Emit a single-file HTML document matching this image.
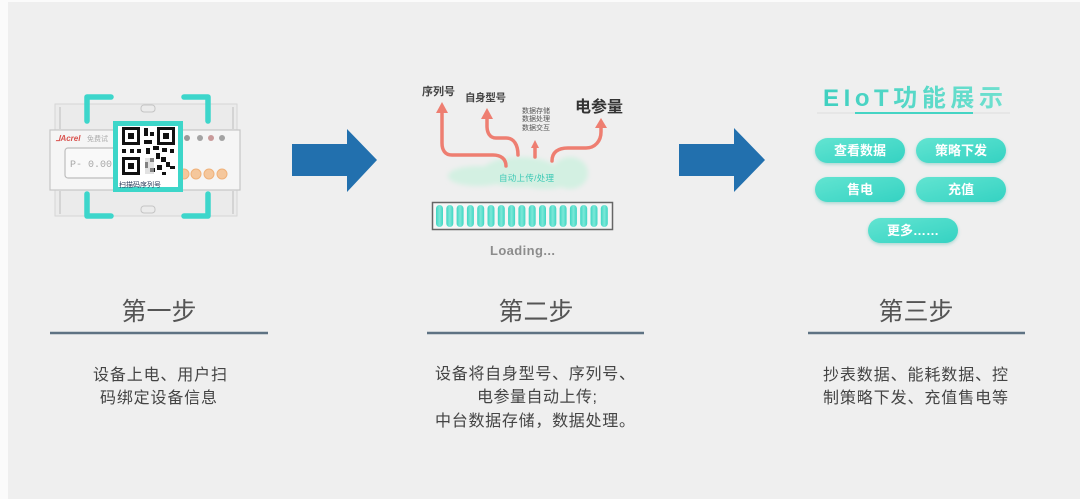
<!DOCTYPE html>
<html><head><meta charset="utf-8">
<style>
html,body{margin:0;padding:0;}
body{width:1080px;height:499px;background:#efefef;overflow:hidden;position:relative;font-family:"Liberation Sans","Noto Sans CJK SC",sans-serif;}
svg{position:absolute;left:0;top:0;}
</style></head>
<body>
<svg width="1080" height="499" viewBox="0 0 1080 499" xmlns="http://www.w3.org/2000/svg">
<defs>
  <linearGradient id="tg" x1="0" y1="0" x2="1" y2="0">
    <stop offset="0" stop-color="#3fd0c0"/><stop offset="1" stop-color="#6fe0cf"/>
  </linearGradient>
  <linearGradient id="bg" x1="0" y1="0" x2="1" y2="1">
    <stop offset="0" stop-color="#62e4d1"/><stop offset="1" stop-color="#34d2c2"/>
  </linearGradient>
  <linearGradient id="seg" x1="0" y1="0" x2="1" y2="0">
    <stop offset="0" stop-color="#3fd6c3"/><stop offset="0.5" stop-color="#7ce8d8"/><stop offset="1" stop-color="#3fd6c3"/>
  </linearGradient>
  <filter id="blur" x="-20%" y="-50%" width="140%" height="200%"><feGaussianBlur stdDeviation="2.5"/></filter>
  <filter id="sh" x="-10%" y="-20%" width="120%" height="160%"><feDropShadow dx="0" dy="1.5" stdDeviation="1.5" flood-color="#2aa89b" flood-opacity="0.35"/></filter>
</defs>

<!-- edges -->
<rect x="0" y="0" width="8" height="499" fill="#fbfbfb"/>
<rect x="0" y="0" width="1080" height="2" fill="#fbfbfb"/>

<!-- ===== STEP 1 device ===== -->
<g>
  <rect x="55" y="104" width="182" height="26" fill="#ebebeb" stroke="#d6d6d6" stroke-width="1"/>
  <rect x="55" y="190" width="182" height="26" fill="#ebebeb" stroke="#d6d6d6" stroke-width="1"/>
  <line x1="60" y1="107" x2="60" y2="129" stroke="#bdbdbd" stroke-width="1"/>
  <line x1="60" y1="191" x2="60" y2="214" stroke="#bdbdbd" stroke-width="1"/>
  <line x1="233" y1="107" x2="233" y2="129" stroke="#bdbdbd" stroke-width="1"/>
  <line x1="233" y1="191" x2="233" y2="214" stroke="#bdbdbd" stroke-width="1"/>
  <rect x="141" y="105" width="14" height="7" rx="3" fill="none" stroke="#c4c4c4" stroke-width="1"/>
  <rect x="141" y="206" width="14" height="7" rx="3" fill="none" stroke="#c4c4c4" stroke-width="1"/>
  <rect x="50" y="130" width="190" height="60" fill="#f5f5f5" stroke="#c6c6c6" stroke-width="1.2"/>
  <text x="56" y="141" font-family="Liberation Sans, sans-serif" font-size="8" font-weight="bold" font-style="italic" fill="#d9534f">⅃Acrel</text>
  <text x="87" y="141" font-family="Liberation Sans, Noto Sans CJK SC, sans-serif" font-size="7" fill="#aaa">免费试</text>
  <rect x="65" y="148" width="63" height="30" rx="3" fill="#f9f9f9" stroke="#bdbdbd" stroke-width="1.2"/>
  <text x="70" y="167" font-family="Liberation Mono, monospace" font-size="10" fill="#a8a8a8">P-  0.00</text>
  <circle cx="187" cy="138" r="3" fill="#9a9a9a"/>
  <circle cx="200" cy="138" r="3" fill="#a3a3a3"/>
  <circle cx="211" cy="138" r="3" fill="#c99a9a"/>
  <circle cx="222" cy="138" r="3" fill="#a3a3a3"/>
  <circle cx="184" cy="174" r="5" fill="#f5c79c" stroke="#f0b27a" stroke-width="1"/>
  <circle cx="196" cy="174" r="5" fill="#f5c79c" stroke="#f0b27a" stroke-width="1"/>
  <circle cx="209" cy="174" r="5" fill="#f5c79c" stroke="#f0b27a" stroke-width="1"/>
  <circle cx="222" cy="174" r="5" fill="#f5c79c" stroke="#f0b27a" stroke-width="1"/>
</g>
<!-- QR -->
<g>
  <rect x="115.5" y="123.5" width="65" height="66" fill="#ffffff" stroke="#3dd6c9" stroke-width="5"/>
  <g fill="#111">
    <rect x="122" y="127" width="18" height="18"/><rect x="157" y="127" width="18" height="18"/><rect x="122" y="157" width="18" height="18"/>
  </g>
  <g fill="#fff">
    <rect x="125" y="130" width="12" height="12"/><rect x="160" y="130" width="12" height="12"/><rect x="125" y="160" width="12" height="12"/>
  </g>
  <g fill="#111">
    <rect x="128" y="133" width="6" height="6"/><rect x="163" y="133" width="6" height="6"/><rect x="128" y="163" width="6" height="6"/>
    <rect x="144" y="128" width="4" height="8"/><rect x="150" y="132" width="4" height="4"/><rect x="144" y="140" width="8" height="4"/>
    <rect x="122" y="149" width="4" height="4"/><rect x="130" y="149" width="4" height="4"/><rect x="137" y="149" width="4" height="4"/>
    <rect x="146" y="148" width="4" height="6"/><rect x="153" y="146" width="6" height="4"/><rect x="162" y="148" width="5" height="4"/><rect x="170" y="149" width="4" height="4"/>
    <rect x="156" y="153" width="4" height="6"/><rect x="161" y="157" width="5" height="5"/><rect x="150" y="158" width="4" height="4"/>
    <rect x="166" y="162" width="4" height="5"/><rect x="157" y="165" width="5" height="5"/><rect x="170" y="166" width="5" height="3"/>
    <rect x="145" y="162" width="3" height="6"/><rect x="150" y="168" width="5" height="4"/><rect x="162" y="172" width="4" height="3"/>
  </g>
  <rect x="145" y="158" width="9" height="16" fill="#cfcfcf" opacity="0.6"/>
  <text x="119" y="187" font-family="Liberation Sans, Noto Sans CJK SC, sans-serif" font-size="7" fill="#2a3a5a">扫描码序列号</text>
</g>
<!-- brackets -->
<g fill="none" stroke="#3dd6cb" stroke-width="5.5" stroke-linecap="round" stroke-linejoin="round">
  <path d="M87,121 V97 H111"/>
  <path d="M184,97 H208 V121"/>
  <path d="M87,194 V216 H111"/>
  <path d="M208,194 V216 H184"/>
</g>

<!-- blue arrows -->
<polygon points="292,144 347,144 347,129 377,160 347,192 347,176 292,176" fill="#2270ae"/>
<polygon points="679,144 734,144 734,128 765,160 734,192 734,176 679,176" fill="#2270ae"/>

<!-- ===== STEP 2 ===== -->
<g font-family="Liberation Sans, Noto Sans CJK SC, sans-serif">
  <text x="422" y="95" font-size="11" font-weight="bold" fill="#444" textLength="33">序列号</text>
  <text x="465" y="101" font-size="10.5" font-weight="bold" fill="#444" textLength="41">自身型号</text>
  <text x="522" y="113" font-size="7" fill="#555" textLength="28">数据存储</text>
  <text x="522" y="121" font-size="7" fill="#555" textLength="28">数据处理</text>
  <text x="522" y="130" font-size="7" fill="#555" textLength="28">数据交互</text>
  <text x="575" y="112" font-size="16" font-weight="bold" fill="#333" textLength="48">电参量</text>
</g>
<!-- cloud -->
<g fill="#d3f0e2" filter="url(#blur)">
  <ellipse cx="478" cy="176" rx="30" ry="10"/>
  <ellipse cx="520" cy="172" rx="38" ry="15"/>
  <ellipse cx="570" cy="173" rx="18" ry="16"/>
  <ellipse cx="545" cy="180" rx="25" ry="9"/>
</g>
<text x="499" y="181" font-family="Liberation Sans, Noto Sans CJK SC, sans-serif" font-size="8.5" fill="#3cc9b5" textLength="55">自动上传/处理</text>
<!-- red arrows -->
<g fill="none" stroke="#ee7e71" stroke-width="3.5" stroke-linecap="round" stroke-linejoin="round">
  <path d="M506,166 C506,159 501,155 493,155 L452,155 C445,155 442,150 442,143 L442,112"/>
  <path d="M518,155 C518,145 514,138 506,138 L496,138 C490,138 487,133 487,126 L487,117"/>
  <path d="M535,157 L535,146"/>
  <path d="M552,161 C552,152 558,148 568,148 L586,148 C595,148 601,141 601,132 L601,126"/>
</g>
<g fill="#ee7e71">
  <polygon points="442,102 436,113 448,113"/>
  <polygon points="487,108 481,119 493,119"/>
  <polygon points="535,140 531,148 539,148"/>
  <polygon points="601,118 595,128 607,128"/>
</g>
<!-- loading bar -->
<rect x="432.5" y="202.5" width="180" height="27" fill="#f6f6f6" stroke="#666" stroke-width="1.5"/>
<g fill="url(#seg)">
  <rect x="436" y="205" width="7" height="22" rx="3.5"/>
  <rect x="446.3" y="205" width="7" height="22" rx="3.5"/>
  <rect x="456.6" y="205" width="7" height="22" rx="3.5"/>
  <rect x="466.9" y="205" width="7" height="22" rx="3.5"/>
  <rect x="477.2" y="205" width="7" height="22" rx="3.5"/>
  <rect x="487.5" y="205" width="7" height="22" rx="3.5"/>
  <rect x="497.8" y="205" width="7" height="22" rx="3.5"/>
  <rect x="508.1" y="205" width="7" height="22" rx="3.5"/>
  <rect x="518.4" y="205" width="7" height="22" rx="3.5"/>
  <rect x="528.7" y="205" width="7" height="22" rx="3.5"/>
  <rect x="539" y="205" width="7" height="22" rx="3.5"/>
  <rect x="549.3" y="205" width="7" height="22" rx="3.5"/>
  <rect x="559.6" y="205" width="7" height="22" rx="3.5"/>
  <rect x="569.9" y="205" width="7" height="22" rx="3.5"/>
  <rect x="580.2" y="205" width="7" height="22" rx="3.5"/>
  <rect x="590.5" y="205" width="7" height="22" rx="3.5"/>
  <rect x="600.8" y="205" width="7" height="22" rx="3.5"/>
</g>
<text x="490" y="255" font-family="Liberation Sans, sans-serif" font-size="13" font-weight="bold" fill="#8c8c8c" textLength="65">Loading...</text>

<!-- ===== STEP 3 ===== -->
<text x="823" y="106" font-family="Liberation Sans, Noto Sans CJK SC, sans-serif" font-size="24" font-weight="bold" fill="url(#tg)" textLength="180" lengthAdjust="spacing">EIoT功能展示</text>
<line x1="817" y1="113" x2="1010" y2="113" stroke="#dcdcdc" stroke-width="1"/>
<line x1="855" y1="113" x2="973" y2="113" stroke="#45d4c4" stroke-width="2"/>
<g filter="url(#sh)">
  <rect x="815" y="138" width="90" height="25" rx="12.5" fill="url(#bg)"/>
  <rect x="916" y="138" width="90" height="25" rx="12.5" fill="url(#bg)"/>
  <rect x="815" y="177" width="90" height="25" rx="12.5" fill="url(#bg)"/>
  <rect x="916" y="177" width="90" height="25" rx="12.5" fill="url(#bg)"/>
  <rect x="868" y="218" width="90" height="25" rx="12.5" fill="url(#bg)"/>
</g>
<g font-family="Liberation Sans, Noto Sans CJK SC, sans-serif" font-size="13" font-weight="bold" fill="#ffffff" text-anchor="middle">
  <text x="860" y="155">查看数据</text>
  <text x="961" y="155">策略下发</text>
  <text x="860" y="194">售电</text>
  <text x="961" y="194">充值</text>
  <text x="913" y="235">更多……</text>
</g>

<!-- ===== headers & lines ===== -->
<g font-family="Liberation Sans, Noto Sans CJK SC, sans-serif" font-size="25" fill="#555" text-anchor="middle">
  <text x="159" y="320">第一步</text>
  <text x="536" y="320">第二步</text>
  <text x="916" y="320">第三步</text>
</g>
<g stroke="#5e7283" stroke-width="2.5">
  <line x1="50" y1="333" x2="268" y2="333"/>
  <line x1="427" y1="333" x2="644" y2="333"/>
  <line x1="808" y1="333" x2="1025" y2="333"/>
</g>

<!-- descriptions -->
<g font-family="Liberation Sans, Noto Sans CJK SC, sans-serif" font-size="16" fill="#444">
  <text x="93" y="380" textLength="134">设备上电、用户扫</text>
  <text x="100" y="403" textLength="117">码绑定设备信息</text>
  <text x="435" y="379" textLength="200">设备将自身型号、序列号、</text>
  <text x="477" y="402" textLength="120">电参量自动上传;</text>
  <text x="435" y="426" textLength="200">中台数据存储，数据处理。</text>
  <text x="823" y="380" textLength="185">抄表数据、能耗数据、控</text>
  <text x="823" y="403" textLength="185">制策略下发、充值售电等</text>
</g>
</svg>
</body></html>
